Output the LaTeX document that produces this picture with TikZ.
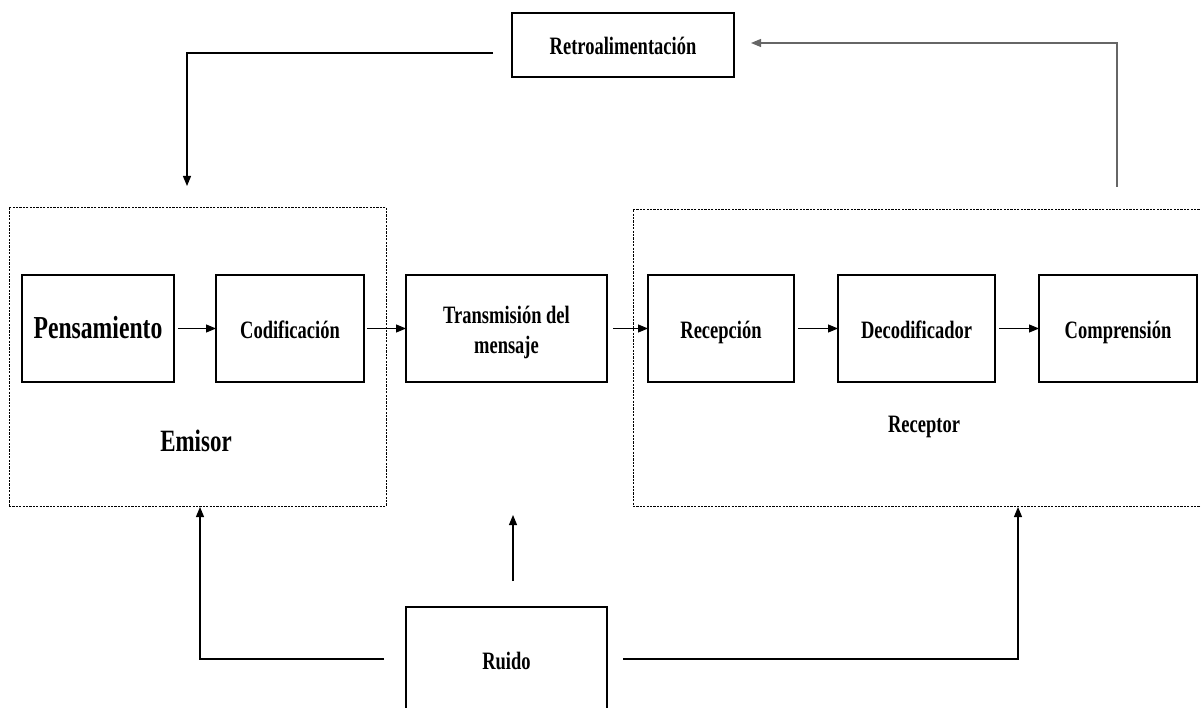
\documentclass[tikz,border=0pt]{standalone}
\usepackage{fontspec}
\setmainfont{Liberation Serif}[FakeStretch=0.74]
\usetikzlibrary{arrows.meta}
\begin{document}
\begin{tikzpicture}[x=1pt,y=-1pt,
  blk/.style={draw, line width=1.1pt, inner sep=0pt, outer sep=0pt, align=center,
    text height=27pt, text depth=7pt,
    font=\bfseries\fontsize{25}{34}\selectfont},
  grp/.style={draw, line width=0.9pt, dash pattern=on 2.2pt off 1.2pt,
    inner sep=0pt, outer sep=0pt},
  lnk/.style={line width=1.1pt, -{Triangle[length=10pt,width=8pt]}},
  lbl/.style={inner sep=0pt, font=\bfseries\fontsize{25}{30}\selectfont}]
\useasboundingbox (0,0) rectangle (1201,708);

% sender and receiver groups
\node[grp, minimum width=377pt, minimum height=299pt] (emisor) at (197.5,356.5) {};
\node[grp, minimum width=570pt, minimum height=297pt] (receptor) at (918,357.5) {};

% process blocks
\node[blk, minimum width=152pt, minimum height=107pt, font=\bfseries\fontsize{32}{36}\selectfont]
  (pens) at (98,328.5) {Pensamiento};
\node[blk, minimum width=148pt, minimum height=107pt] (cod) at (290,328.5) {Codificación};
\node[blk, minimum width=201pt, minimum height=107pt] (trans) at (506.5,328.5) {};
\node[lbl, anchor=base, align=center] (transtxt) at (506.5,353) {Transmisión del\\mensaje};
\node[blk, minimum width=146pt, minimum height=107pt] (recep) at (721,328.5) {Recepción};
\node[blk, minimum width=157pt, minimum height=107pt] (dec) at (916.5,328.5) {Decodificador};
\node[blk, minimum width=158pt, minimum height=107pt] (comp) at (1118,328.5) {Comprensión};
\node[blk, minimum width=222pt, minimum height=64pt] (retro) at (623,45) {Retroalimentación};
\node[blk, minimum width=201pt, minimum height=112pt, text height=24pt, text depth=12pt]
  (ruido) at (506.5,663) {Ruido};

% group captions
\node[lbl, font=\bfseries\fontsize{31}{34}\selectfont] (emisorlbl) at (196,441) {Emisor};
\node[lbl] (receptorlbl) at (924,427) {Receptor};

% main chain
\draw[lnk, shorten <=4pt] (pens.east) -- (cod.west);
\draw[lnk, shorten <=3pt] (cod.east) -- (trans.west);
\draw[lnk, shorten <=6pt] (trans.east) -- (recep.west);
\draw[lnk, shorten <=4pt] (recep.east) -- (dec.west);
\draw[lnk, shorten <=4pt] (dec.east) -- (comp.west);

% feedback loop
\coordinate (fbstart) at ([shift={(-19pt,-8pt)}]retro.west);
\draw[lnk, shorten >=21pt] (fbstart) -| ([xshift=-10.5pt]emisor.north);
\draw[lnk, draw=black!60, shorten <=22pt, shorten >=17pt]
  ([xshift=199pt]receptor.north) |- ([yshift=2pt]retro.east);

% noise
\draw[lnk, shorten <=22pt, shorten >=1pt]
  ([yshift=4pt]ruido.west) -| ([xshift=2.5pt]emisor.south);
\draw[lnk, shorten <=16pt, shorten >=1pt]
  ([yshift=4pt]ruido.east) -| ([xshift=100pt]receptor.south);
\draw[lnk, shorten <=26pt, shorten >=133pt]
  ([xshift=6.5pt]ruido.north) -- ([xshift=6.5pt]trans.south);
\end{tikzpicture}
\end{document}
